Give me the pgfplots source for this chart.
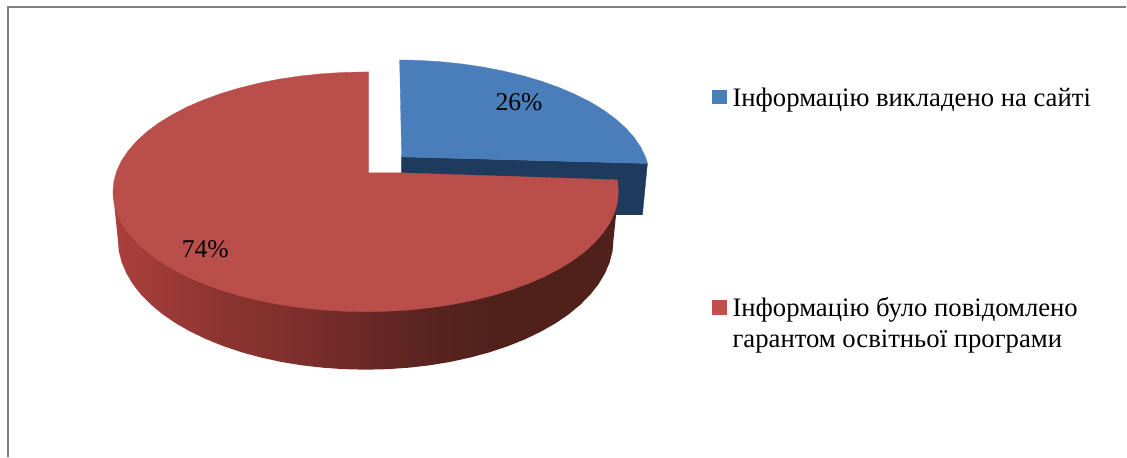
\documentclass[border=0pt]{standalone}
\usepackage{pgfplots}
\pgfplotsset{compat=1.18}
\usepackage{fontspec}
\setmainfont{Liberation Serif}
\definecolor{pieblue}{HTML}{4A7EBB}
\definecolor{piered}{HTML}{BA4E4B}
\definecolor{keyred}{HTML}{C0504D}
\definecolor{navy}{HTML}{1E3A5C}
\definecolor{framegray}{HTML}{808080}
\definecolor{s0}{HTML}{AC403D}
\definecolor{s1}{HTML}{8E3532}
\definecolor{s2}{HTML}{7C2E2B}
\definecolor{s3}{HTML}{6A2926}
\definecolor{s4}{HTML}{5A2420}
\definecolor{s5}{HTML}{50201B}
\pgfdeclarehorizontalshading{sidegrad}{100bp}{color(0bp)=(s0);color(25bp)=(s0);color(35bp)=(s1);color(44bp)=(s2);color(50bp)=(s3);color(56bp)=(s4);color(63bp)=(s5);color(100bp)=(s5)}
\newcommand{\lab}{\fontsize{25.6}{30}\selectfont}
\newcommand{\leg}{\fontsize{26.7}{32}\selectfont}
\begin{document}
\begin{tikzpicture}
\begin{axis}[
  width=1127pt,height=457pt,scale only axis,
  xmin=0,xmax=1127,ymin=0,ymax=457,y dir=reverse,
  hide axis,clip=false,
  every axis plot post/.append style={mark=none}]
% page extent
\addplot[draw=none] coordinates {(0,0)(1127,457)};
% frame
\addplot[draw=framegray,line width=2pt] coordinates {(8,457)(8,7)(1127,7)};
% blue side
\addplot[fill=navy,draw=navy,line width=0.3pt] coordinates {(402,157)(648,163.6)(643,215)(560,215)(402,200)} -- cycle;
% blue face
\addplot[fill=pieblue,draw=pieblue,line width=0.3pt] coordinates {(400,60)(419.1,60.4)(440.9,61.8)(462.5,64)(483.5,67.1)(503.9,71.1)(523.5,75.8)(542.1,81.3)(559.6,87.6)(575.9,94.6)(590.8,102.1)(604.3,110.3)(616.1,119)(626.3,128.1)(634.7,137.6)(641.4,147.5)(646.2,157.5)(648.1,163.6)(402,157)} -- cycle;
% red side
\addplot[shading=sidegrad,draw=none] coordinates {
 (619,192)(614,240)(613.1,251.3)(610.2,262.6)(605.5,273.6)(599,284.5)(590.8,294.9)(580.8,305)(569.2,314.6)(556,323.6)(541.4,331.9)(525.4,339.6)(508.3,346.5)(490,352.6)(470.8,357.8)(450.8,362.2)(430.2,365.6)(409.1,368)(387.6,369.5)(366,370)
 (344.4,369.5)(322.9,368)(301.8,365.6)(281.2,362.2)(261.2,357.8)(242,352.6)(223.7,346.5)(206.6,339.6)(190.6,331.9)(176,323.6)(162.8,314.6)(151.2,305)(141.2,294.9)(133,284.5)(126.5,273.6)(121.8,262.6)(118.9,251.3)(118,240)(113,192)} -- cycle;
% red face
\addplot[fill=piered,draw=piered,line width=0.3pt] coordinates {
 (369,173)(369,72)(366,72)(343.9,72.5)(322.1,73.8)(300.5,76.1)(279.5,79.2)(259.1,83.2)(239.5,88.1)(220.9,93.7)(203.4,100.1)(187.1,107.1)(172.2,114.9)(158.7,123.2)(146.9,132)(136.7,141.3)(128.3,151)(121.6,160.9)(116.8,171.2)(114,181.5)(113,192)
 (114,202.5)(116.8,212.8)(121.6,223.1)(128.3,233)(136.7,242.7)(146.9,252)(158.7,260.8)(172.2,269.1)(187.1,276.9)(203.4,283.9)(220.9,290.3)(239.5,295.9)(259.1,300.8)(279.5,304.8)(300.5,307.9)(322.1,310.2)(343.9,311.5)(366,312)
 (388.1,311.5)(409.9,310.2)(431.5,307.9)(452.5,304.8)(472.9,300.8)(492.5,295.9)(511.1,290.3)(528.6,283.9)(544.9,276.9)(559.8,269.1)(573.3,260.8)(585.1,252)(595.3,242.7)(603.7,233)(610.4,223.1)(615.2,212.8)(618,202.5)(619,192)(618,180)(402,173)} -- cycle;
% percentage labels
\node[anchor=center,font=\lab] at (axis cs:519.5,102) {26\%};
\node[anchor=center,font=\lab] at (axis cs:205.5,249) {74\%};
% legend keys
\addplot[fill=pieblue,draw=pieblue,line width=0.3pt] coordinates {(713,90)(727,90)(727,103)(713,103)} -- cycle;
\addplot[fill=keyred,draw=keyred,line width=0.3pt] coordinates {(713,300)(727,300)(727,314)(713,314)} -- cycle;
\node[anchor=base west,inner sep=0pt,font=\leg] at (axis cs:733,106.5) {Інформацію викладено на сайті};
\node[anchor=base west,inner sep=0pt,font=\leg] at (axis cs:733,316.5) {Інформацію було повідомлено};
\node[anchor=base west,inner sep=0pt,font=\leg] at (axis cs:733,348) {гарантом освітньої програми};
\end{axis}
\end{tikzpicture}
\end{document}
